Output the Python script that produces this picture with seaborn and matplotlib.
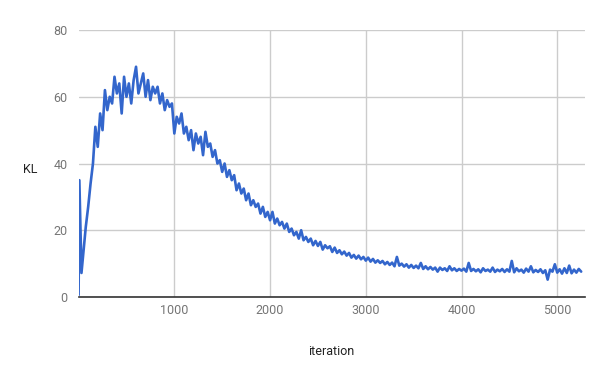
import matplotlib
matplotlib.use("Agg")

import matplotlib.pyplot as plt
import seaborn as sns
import pandas as pd

# --- Data ---
# first few samples are irregular (spike then dip right at the start)
HEAD_ITER = [0, 8, 30, 55]
HEAD_KL = [0.6, 35, 7.2, 15]

# afterwards one sample every 25 iterations, starting at 75
MAIN_START = 75
MAIN_STEP = 25
MAIN_KL = [
    21, 27, 34, 40, 51, 45, 55, 50,
    62, 56, 60, 58, 66, 61, 64, 55,
    66, 60, 64, 58, 65, 69, 61, 64,
    67, 60, 65, 59, 63, 61, 63, 58,
    61, 56, 59, 57, 58, 49, 54, 52,
    55, 49, 51, 47, 50, 44, 49, 46,
    48, 42.5, 49.5, 45, 46, 42, 44, 40,
    41, 37.5, 40, 36, 38, 35, 36.5, 32,
    34, 31, 32.5, 29, 31, 27.5, 29, 27,
    28, 25, 27, 24, 25.5, 23, 25.5, 22,
    23.5, 21.5, 22.5, 20.5, 22, 19.5, 20.5, 18.5,
    19.5, 17.5, 20, 17, 18, 16.5, 17.5, 15.5,
    16.8, 15.3, 16.5, 14.2, 15.5, 14.6, 15.2, 13.5,
    14.8, 13.2, 14, 12.8, 13.6, 12.4, 13.2, 11.8,
    12.6, 11.5, 12.4, 11.3, 12, 10.9, 11.8, 10.6,
    11.4, 10.3, 11, 10.2, 10.8, 9.8, 10.5, 9.6,
    10.3, 9.2, 12, 9.4, 10, 9.1, 9.8, 8.8,
    9.6, 8.7, 9.4, 8.6, 10.2, 8.4, 9.2, 8.3,
    9, 8.2, 8.8, 7.6, 8.8, 8.1, 8.6, 7.8,
    9.2, 8, 8.6, 7.8, 8.4, 7.9, 8.5, 7.6,
    10.2, 7.8, 8.4, 7.7, 8.3, 7.4, 8.6, 7.8,
    8.2, 7.6, 8.8, 7.5, 8.2, 7.7, 8.4, 7.5,
    8.3, 7.6, 10.8, 7.4, 8.6, 7.7, 8.2, 7.3,
    8.5, 7.6, 9.2, 7.4, 8.1, 7.5, 8.3, 7.2,
    8.0, 5.2, 8.2, 7.6, 9.8, 7.3, 8.3, 7.0,
    8.6, 7.2, 9.4, 7.1, 8.2, 7.3, 8.4, 7.6,
]

X_TICKS = [1000, 2000, 3000, 4000, 5000]
Y_TICKS = [0, 20, 40, 60, 80]

iteration = HEAD_ITER + list(range(MAIN_START, MAIN_START + MAIN_STEP * len(MAIN_KL), MAIN_STEP))
df = pd.DataFrame({"iteration": iteration, "KL": HEAD_KL + MAIN_KL})

# --- Style ---
sns.set_theme(style="whitegrid")
plt.rcParams.update({
    "font.family": ["Roboto", "DejaVu Sans"],
    "axes.edgecolor": "#333333",
    "grid.color": "#cccccc",
    "grid.linewidth": 1.0,
})

fig = plt.figure(figsize=(6, 3.71), dpi=100)
ax = fig.add_axes([0.131, 0.1995, 0.844, 0.7195])

sns.lineplot(data=df, x="iteration", y="KL", ax=ax, color="#3366cc", linewidth=1.9)

ax.set_xlim(0, 5290)
ax.set_ylim(0, 80)
ax.set_xticks(X_TICKS)
ax.set_yticks(Y_TICKS)
ax.tick_params(axis="both", length=0, labelsize=9, labelcolor="#757575")
ax.tick_params(axis="y", pad=8)
ax.tick_params(axis="x", pad=5)

for side in ["left", "right", "top"]:
    ax.spines[side].set_visible(False)
ax.spines["bottom"].set_color("#333333")
ax.spines["bottom"].set_linewidth(1.2)
ax.spines["bottom"].set_zorder(5)

ax.set_xlabel("iteration", fontsize=9, color="#222222")
ax.set_ylabel("KL", fontsize=9, color="#222222", rotation=0, va="center", ha="center")
ax.xaxis.set_label_coords(0.499, -0.18)
ax.yaxis.set_label_coords(-0.096, 0.476)

fig.savefig("out.png", dpi=100)
plt.close(fig)
